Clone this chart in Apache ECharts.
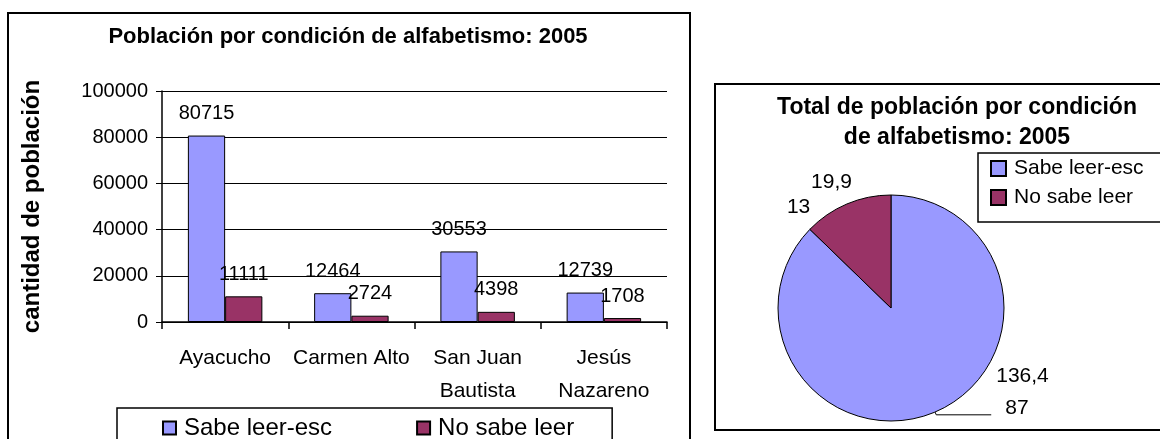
<!DOCTYPE html>
<html>
<head>
    <meta charset="utf-8">
    <title>Población por condición de alfabetismo</title>
    <script src="https://cdn.jsdelivr.net/npm/echarts@6/dist/echarts.min.js"></script>
    <style>
        html, body { margin: 0; padding: 0; background: #fff; }
    </style>
</head>
<body>
<div id="main" style="width: 1160px;height:439px;"></div>
<script type="text/javascript">
    // datos
    var distritos = ['Ayacucho', 'Carmen Alto', 'San Juan\nBautista', 'Jesús\nNazareno'];
    var sabeLeer = [80715, 12464, 30553, 12739];
    var noSabeLeer = [11111, 2724, 4398, 1708];
    var nombres = ['Sabe leer-esc', 'No sabe leer'];
    var totalSabe = 136471;
    var totalNoSabe = 19941;
    var ticksY = [0, 20000, 40000, 60000, 80000, 100000];

    var azul = '#9999FF', morado = '#993366';
    var fuente = 'Arial, "Liberation Sans", sans-serif';

    function miles(v) {
        return String(v).replace(/\B(?=(\d{3})+(?!\d))/g, ',');
    }
    var total = totalSabe + totalNoSabe;
    // las etiquetas del pie salen cortadas en el original
    function etiquetaPie(p) {
        var pct = Math.round(p.value / total * 100);
        var txt = miles(p.value);
        if (p.dataIndex === 0) {
            return '{a|' + txt.slice(0, 5) + '}\n{b|' + pct + '}';
        }
        return '{c|' + txt.slice(0, 4) + '}\n{d|' + pct + '}';
    }

    var myChart = echarts.init(document.getElementById('main'));

    var option = {
        animation: false,
        textStyle: {fontFamily: fuente},
        title: [{
            text: 'Población por condición de alfabetismo: 2005',
            left: 343,
            top: 21,
            textAlign: 'center',
            textStyle: {fontSize: 22, fontWeight: 'bold', color: '#000', fontFamily: fuente}
        }, {
            text: 'Total de población por condición\nde alfabetismo: 2005',
            left: 952,
            top: 88,
            textAlign: 'center',
            textStyle: {fontSize: 23, fontWeight: 'bold', color: '#000', lineHeight: 30, fontFamily: fuente}
        }],
        legend: [{
            data: nombres,
            orient: 'horizontal',
            left: 117,
            top: 408,
            itemWidth: 13,
            itemHeight: 13,
            itemGap: 84,
            icon: 'rect',
            padding: [8, 38, 12, 45],
            borderColor: '#000',
            borderWidth: 1.5,
            textStyle: {fontSize: 24, color: '#000', padding: [0, 0, 0, 3], fontFamily: fuente}
        }, {
            data: nombres,
            orient: 'vertical',
            left: 978,
            top: 153,
            itemWidth: 15,
            itemHeight: 15,
            itemGap: 8,
            icon: 'rect',
            padding: [5, 40, 14, 12],
            borderColor: '#000',
            borderWidth: 1.5,
            textStyle: {fontSize: 21, color: '#000', padding: [0, 0, 0, 3], fontFamily: fuente}
        }],
        grid: {
            left: 162,
            right: 493,
            top: 91,
            bottom: 117
        },
        xAxis: {
            type: 'category',
            data: distritos,
            axisLine: {lineStyle: {color: '#000', width: 1.5}},
            axisTick: {show: true, length: 7, lineStyle: {color: '#000', width: 1.5}},
            axisLabel: {interval: 0, fontSize: 21, color: '#000', lineHeight: 33, margin: 20, fontFamily: fuente}
        },
        yAxis: {
            type: 'value',
            min: ticksY[0],
            max: ticksY[ticksY.length - 1],
            interval: ticksY[1] - ticksY[0],
            name: 'cantidad de población',
            nameLocation: 'middle',
            nameRotate: 90,
            nameGap: 118,
            nameTextStyle: {fontSize: 24, fontWeight: 'bold', color: '#000', fontFamily: fuente},
            axisLine: {show: true, lineStyle: {color: '#000', width: 1.5}},
            axisTick: {show: true, length: 6, lineStyle: {color: '#000'}},
            axisLabel: {
                fontSize: 20, color: '#000', margin: 14, fontFamily: fuente,
                formatter: function (v) { return String(v); }
            },
            splitLine: {show: true, lineStyle: {color: '#000', width: 1}}
        },
        series: [{
            name: nombres[0],
            type: 'bar',
            data: sabeLeer,
            barGap: '0%',
            barCategoryGap: '41%',
            itemStyle: {color: azul, borderColor: '#000', borderWidth: 1},
            label: {show: true, position: 'top', distance: 12, fontSize: 20, color: '#000', fontFamily: fuente}
        }, {
            name: nombres[1],
            type: 'bar',
            data: noSabeLeer,
            itemStyle: {color: morado, borderColor: '#000', borderWidth: 1},
            label: {show: true, position: 'top', distance: 12, fontSize: 20, color: '#000', fontFamily: fuente}
        }, {
            name: 'Total',
            type: 'pie',
            center: [891, 308],
            radius: 113,
            startAngle: 90,
            clockwise: true,
            avoidLabelOverlap: false,
            itemStyle: {borderColor: '#000', borderWidth: 1},
            labelLine: {show: true, length: 3, length2: 55, lineStyle: {color: '#000', width: 1}},
            label: {
                show: true,
                position: 'outside',
                color: '#000',
                fontSize: 21,
                fontFamily: fuente,
                formatter: etiquetaPie,
                rich: {
                    a: {fontSize: 21, lineHeight: 44, color: '#000', align: 'left', fontFamily: fuente},
                    b: {fontSize: 21, lineHeight: 20, color: '#000', align: 'left', padding: [0, 0, 0, 9], fontFamily: fuente},
                    c: {fontSize: 21, lineHeight: 25, color: '#000', align: 'right', fontFamily: fuente},
                    d: {fontSize: 21, lineHeight: 25, color: '#000', align: 'left', fontFamily: fuente}
                }
            },
            data: [{
                name: nombres[0],
                value: totalSabe,
                itemStyle: {color: azul},
                label: {padding: [0, 0, 58, 0]}
            }, {
                name: nombres[1],
                value: totalNoSabe,
                itemStyle: {color: morado},
                labelLine: {show: false, length: 0, length2: 0},
                label: {width: 65, padding: [0, 0, 19, 0], distanceToLabelLine: -5}
            }]
        }],
        graphic: [{
            type: 'rect',
            shape: {x: 8, y: 13, width: 682, height: 440},
            style: {fill: 'none', stroke: '#000', lineWidth: 2},
            silent: true
        }, {
            type: 'rect',
            shape: {x: 715, y: 84, width: 460, height: 346},
            style: {fill: 'none', stroke: '#000', lineWidth: 2},
            silent: true
        }]
    };
    myChart.setOption(option);
</script>
</body>
</html>
